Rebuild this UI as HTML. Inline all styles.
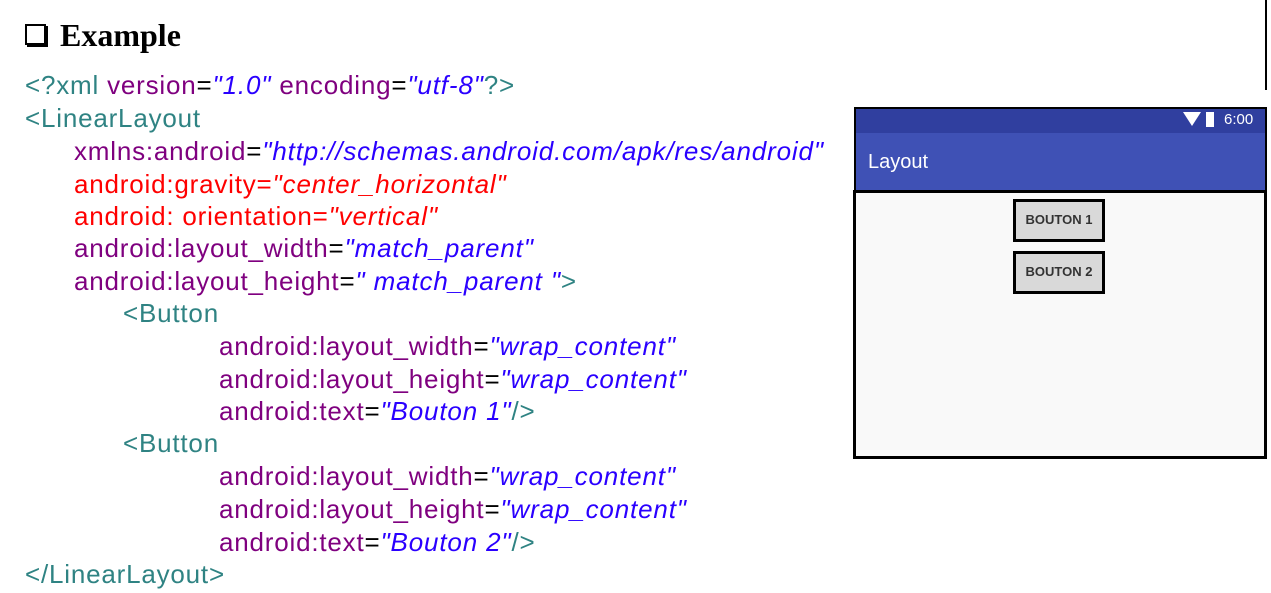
<!DOCTYPE html>
<html><head><meta charset="utf-8"><style>
body{margin:0;width:1271px;height:593px;background:#fff;position:relative;overflow:hidden;font-family:"Liberation Sans",sans-serif}
.l{position:absolute;font-size:26px;white-space:nowrap;line-height:30px;letter-spacing:0.8px}
.t{color:#2f8383}.p{color:#7f007f}.b{color:#2a00ff;font-style:italic;letter-spacing:0.85px}.r{color:#ff0000}.k{color:#000}
.r i{letter-spacing:0.85px}
.h{position:absolute;left:25px;top:17px;font-family:"Liberation Serif",serif;font-weight:bold;font-size:32px}
.btn{position:absolute;left:1013px;width:86px;height:37px;border:3px solid #000;background:#d9d9d9;font-size:13px;font-weight:bold;color:#333;text-align:center;line-height:36px}
</style></head><body>
<div style="position:absolute;left:1265px;top:0;width:2px;height:90px;background:#000"></div>
<div class="h"><span style="display:inline-block;width:17px;height:17px;border:2px solid #000;box-shadow:2px 2px 0 #000;margin-right:14px;vertical-align:1px"></span>Example</div>
<div class="l" style="left:25px;top:70px"><span class="t">&lt;?xml </span><span class="p">version</span><span class="k">=</span><span class="b">"1.0"</span><span class="p"> encoding</span><span class="k">=</span><span class="b">"utf-8"</span><span class="t">?&gt;</span></div>
<div class="l t" style="left:25px;top:103px">&lt;LinearLayout</div>
<div class="l" style="left:74px;top:136px"><span class="p">xmlns:android</span><span class="k">=</span><span class="b">"http://schemas.android.com/apk/res/android"</span></div>
<div class="l r" style="left:74px;top:169px">android:gravity=<i>"center_horizontal"</i></div>
<div class="l r" style="left:74px;top:201px">android: orientation=<i>"vertical"</i></div>
<div class="l" style="left:74px;top:233px"><span class="p">android:layout_width</span><span class="k">=</span><span class="b">"match_parent"</span></div>
<div class="l" style="left:74px;top:266px"><span class="p">android:layout_height</span><span class="k">=</span><span class="b">" match_parent "</span><span class="t">&gt;</span></div>
<div class="l t" style="left:123px;top:298px">&lt;Button</div>
<div class="l" style="left:219px;top:331px"><span class="p">android:layout_width</span><span class="k">=</span><span class="b">"wrap_content"</span></div>
<div class="l" style="left:219px;top:364px"><span class="p">android:layout_height</span><span class="k">=</span><span class="b">"wrap_content"</span></div>
<div class="l" style="left:219px;top:396px"><span class="p">android:text</span><span class="k">=</span><span class="b">"Bouton 1"</span><span class="t">/&gt;</span></div>
<div class="l t" style="left:123px;top:428px">&lt;Button</div>
<div class="l" style="left:219px;top:461px"><span class="p">android:layout_width</span><span class="k">=</span><span class="b">"wrap_content"</span></div>
<div class="l" style="left:219px;top:494px"><span class="p">android:layout_height</span><span class="k">=</span><span class="b">"wrap_content"</span></div>
<div class="l" style="left:219px;top:527px"><span class="p">android:text</span><span class="k">=</span><span class="b">"Bouton 2"</span><span class="t">/&gt;</span></div>
<div class="l t" style="left:25px;top:559px">&lt;/LinearLayout&gt;</div>

<div style="position:absolute;left:854px;top:107px;width:409px;height:82px;border:2px solid #000;background:#3f51b5"></div>
<div style="position:absolute;left:856px;top:109px;width:409px;height:24px;background:#303f9f"></div>
<div style="position:absolute;left:1183px;top:112px;width:0;height:0;border-left:9px solid transparent;border-right:9px solid transparent;border-top:14px solid #fff"></div>
<div style="position:absolute;left:1206px;top:112px;width:8px;height:15px;background:#fff"></div>
<div style="position:absolute;left:1224px;top:111px;color:#fff;font-size:15px">6:00</div>
<div style="position:absolute;left:868px;top:151px;color:#fff;font-size:20px">Layout</div>
<div style="position:absolute;left:853px;top:190px;width:408px;height:263px;border:3px solid #000;background:#f9f9f9"></div>
<div class="btn" style="top:199px">BOUTON 1</div>
<div class="btn" style="top:251px">BOUTON 2</div>
</body></html>
